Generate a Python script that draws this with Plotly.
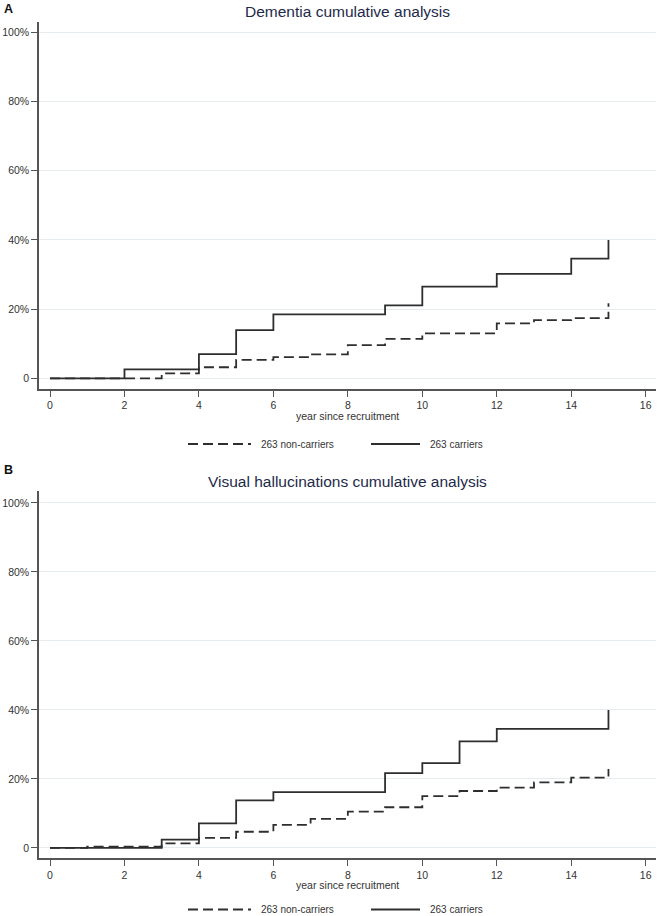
import plotly.graph_objects as go

# ---- data (cumulative %, step functions) ----
a_carrier_t = [0, 2, 4, 5, 6, 9, 10, 12, 14, 15]
a_carrier_v = [0, 2.6, 7.0, 13.9, 18.5, 21.1, 26.5, 30.2, 34.6, 40.0]
a_noncar_t = [0, 3, 4, 5, 6, 7, 8, 9, 10, 12, 13, 14, 15]
a_noncar_v = [0, 1.4, 3.2, 5.3, 6.1, 6.9, 9.6, 11.4, 13.0, 15.9, 16.8, 17.4, 21.7]

b_carrier_t = [0, 3, 4, 5, 6, 9, 10, 11, 12, 15]
b_carrier_v = [0, 2.4, 7.1, 13.8, 16.2, 21.7, 24.6, 30.9, 34.5, 40.0]
b_noncar_t = [0, 1, 3, 4, 5, 6, 7, 8, 9, 10, 11, 12, 13, 14, 15]
b_noncar_v = [0, 0.4, 1.3, 2.9, 4.7, 6.7, 8.4, 10.5, 11.8, 15.0, 16.5, 17.5, 19.0, 20.4, 22.9]

y_ticks = [0, 20, 40, 60, 80, 100]
y_labels = ["0", "20%", "40%", "60%", "80%", "100%"]
x_ticks = list(range(0, 17, 2))

titles = ["Dementia cumulative analysis", "Visual hallucinations cumulative analysis"]
panel_labels = ["A", "B"]
x_title = "year since recruitment"
legend_names = ["263 non-carriers", "263 carriers"]

W, H = 661, 916
FONT = "Liberation Sans, Arial, Helvetica, sans-serif"
LINE_C = "#2e2e2e"
AX_C = "#555555"
GRID_C = "#e4ecef"

def py(p):  # pixel y -> paper
    return 1 - p / H

def px(p):  # pixel x -> paper
    return p / W

fig = go.Figure()

panels = [
    dict(t=(a_noncar_t, a_noncar_v, a_carrier_t, a_carrier_v), xa="x", ya="y",
         top=21.7, bot=389.0, yr=[-3.09, 103.06], title_y=11.7, lab_y=8.5,
         xt_y=416.0, leg_y=444.0),
    dict(t=(b_noncar_t, b_noncar_v, b_carrier_t, b_carrier_v), xa="x2", ya="y2",
         top=490.7, bot=858.3, yr=[-3.0, 103.55], title_y=481.0, lab_y=470.0,
         xt_y=885.0, leg_y=909.5),
]

x_left, x_right = 39.0, 656.0
xr = [-0.2955, 16.277]

annotations = []
shapes = []
for i, p in enumerate(panels):
    nt, nv, ct, cv = p["t"]
    fig.add_trace(go.Scatter(x=nt, y=nv, mode="lines", line_shape="hv",
                             line=dict(color=LINE_C, width=1.8, dash="10px,5px"),
                             name=legend_names[0], showlegend=False,
                             xaxis=p["xa"], yaxis=p["ya"]))
    fig.add_trace(go.Scatter(x=ct, y=cv, mode="lines", line_shape="hv",
                             line=dict(color=LINE_C, width=1.8),
                             name=legend_names[1], showlegend=False,
                             xaxis=p["xa"], yaxis=p["ya"]))
    suffix = "" if i == 0 else "2"
    fig.update_layout(**{
        "xaxis" + suffix: dict(domain=[px(x_left), px(x_right)], range=xr,
                               anchor="y" + suffix, tickvals=x_ticks,
                               showline=True, linecolor=AX_C, linewidth=1.5,
                               ticks="outside", ticklen=6, tickcolor=AX_C, tickwidth=1.2,
                               showgrid=False, zeroline=False,
                               tickfont=dict(family=FONT, size=10.5, color="#333")),
        "yaxis" + suffix: dict(domain=[py(p["bot"]), py(p["top"])], range=p["yr"],
                               anchor="x" + suffix, tickvals=y_ticks, ticktext=y_labels,
                               showline=True, linecolor=AX_C, linewidth=1.5,
                               ticks="outside", ticklen=6, tickcolor=AX_C, tickwidth=1.2,
                               showgrid=True, gridcolor=GRID_C, gridwidth=1,
                               zeroline=False,
                               tickfont=dict(family=FONT, size=10.5, color="#333")),
    })
    cx = px((x_left + x_right) / 2)
    annotations.append(dict(text=titles[i], x=cx, y=py(p["title_y"]), xref="paper", yref="paper",
                            showarrow=False, xanchor="center", yanchor="middle",
                            font=dict(family=FONT, size=15.5, color="#1e2a4a")))
    annotations.append(dict(text="<b>%s</b>" % panel_labels[i], x=px(2), y=py(p["lab_y"]),
                            xref="paper", yref="paper", showarrow=False,
                            xanchor="left", yanchor="middle",
                            font=dict(family=FONT, size=12.5, color="#111")))
    annotations.append(dict(text=x_title, x=cx, y=py(p["xt_y"]), xref="paper", yref="paper",
                            showarrow=False, xanchor="center", yanchor="middle",
                            font=dict(family=FONT, size=10.5, color="#333")))
    # legend keys
    ly = py(p["leg_y"])
    shapes.append(dict(type="line", xref="paper", yref="paper", x0=px(188), x1=px(251),
                       y0=ly, y1=ly, line=dict(color=LINE_C, width=1.8, dash="10px,5px")))
    shapes.append(dict(type="line", xref="paper", yref="paper", x0=px(371), x1=px(420),
                       y0=ly, y1=ly, line=dict(color=LINE_C, width=1.8)))
    annotations.append(dict(text=legend_names[0], x=px(259), y=ly, xref="paper", yref="paper",
                            showarrow=False, xanchor="left", yanchor="middle",
                            font=dict(family=FONT, size=10, color="#333")))
    annotations.append(dict(text=legend_names[1], x=px(428), y=ly, xref="paper", yref="paper",
                            showarrow=False, xanchor="left", yanchor="middle",
                            font=dict(family=FONT, size=10, color="#333")))

fig.update_layout(width=W, height=H, margin=dict(l=0, r=0, t=0, b=0),
                  paper_bgcolor="white", plot_bgcolor="white",
                  annotations=annotations, shapes=shapes, showlegend=False)

fig.write_html("out.html", config={"displayModeBar": False},
               post_script="document.body.style.margin='0';document.body.style.overflow='hidden';")
